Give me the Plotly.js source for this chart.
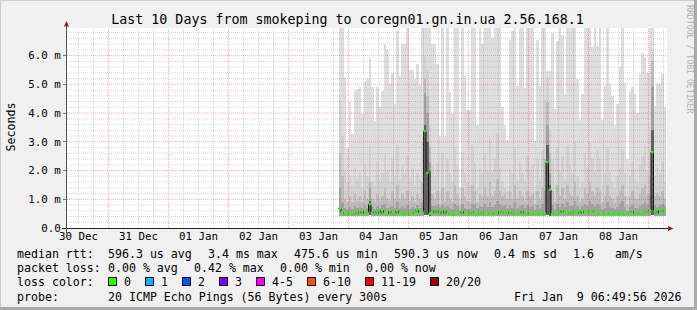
<!DOCTYPE html>
<html><head><meta charset="utf-8">
<script src="https://cdn.plot.ly/plotly-3.0.1.min.js"></script>
<style>html,body{margin:0;padding:0;background:#f0f0f0;}#chart{width:697px;height:310px;}</style>
</head><body><div id="chart"></div>
<script>
// ---------------- data ----------------
const titleText = 'Last 10 Days from smokeping to coregn01.gn.in.ua 2.56.168.1';
const binStart = '2026-01-03 20:00:00';   // first hourly bin with data
const stepHours = 1;
const rangeStart = '2025-12-30 07:24:00';
const rangeEnd = '2026-01-09 07:24:00';

// smoke (ms): lower edge, outer (max) and inner percentile layers, per hourly bin
const smokeMin = [
0.42,0.43,0.42,0.43,0.42,0.41,0.42,0.43,0.42,0.42,
0.43,0.42,0.44,0.42,0.41,0.43,0.42,0.43,0.42,0.42,
0.43,0.42,0.42,0.43,0.42,0.41,0.42,0.43,0.42,0.42,
0.42,0.43,0.42,0.43,0.45,0.44,0.43,0.42,0.43,0.42,
0.42,0.42,0.43,0.42,0.41,0.42,0.42,0.43,0.42,0.43,
0.42,0.42,0.41,0.43,0.42,0.42,0.42,0.43,0.42,0.42,
0.42,0.42,0.43,0.42,0.43,0.42,0.43,0.42,0.43,0.42,
0.42,0.41,0.42,0.43,0.42,0.42,0.43,0.42,0.41,0.42,
0.42,0.42,0.43,0.44,0.43,0.42,0.41,0.42,0.42,0.43,
0.42,0.43,0.42,0.42,0.43,0.42,0.41,0.42,0.42,0.42,
0.43,0.43,0.42,0.42,0.42,0.41,0.42,0.42,0.42,0.41,
0.41,0.42,0.42,0.42,0.42,0.41,0.42,0.43,0.42,0.42,
0.42,0.42,0.42,0.43,0.43,0.44,0.43,0.42,0.43,0.43,
0.43];
const smokeMax = [
7.5,7.5,5.27,2.8,4.4,3.27,4.78,4.85,4.9,3.97,
5.13,5.2,5.96,4.9,3.74,4.9,4.2,4.78,6.4,6.2,
5.0,5.4,4.3,6.85,5.3,6.4,6.4,7.5,5.5,5.5,
5.2,5.7,4.98,7.5,7.5,7.5,7.5,6.4,6.4,5.7,
3.2,7.5,3.2,7.5,4.72,3.97,7.5,7.5,1.43,7.5,
5.3,4.1,4.1,7.5,7.5,3.6,7.5,6.4,7.5,7.5,
7.5,6.6,7.5,7.5,7.5,4.2,3.6,3.06,6.55,6.85,
7.5,4.94,7.5,7.5,4.87,7.5,7.5,7.5,3.04,6.55,
4.94,7.5,7.5,5.45,5.45,6.8,4.15,6.5,7.5,6.7,
4.65,7.5,7.5,7.5,7.5,5.2,3.75,4.65,7.5,7.5,
7.5,6.3,7.5,6.35,7.5,3.75,4.94,7.5,5.0,4.6,
3.6,4.3,5.6,7.5,5.05,2.4,4.78,4.9,4.65,4.0,
5.35,6.1,5.95,5.4,7.5,7.5,4.25,5.0,5.0,5.35,
4.2];
const smokeP2 = [
4.5,3.2,2.0,1.6,1.8,1.5,2.1,1.7,1.9,1.4,
2.2,1.8,2.9,1.6,1.5,2.3,1.7,1.9,2.6,2.0,
1.6,2.4,1.8,2.9,1.7,2.2,1.9,2.5,1.6,2.1,
1.5,1.9,1.7,3.0,6.0,5.5,3.6,2.2,1.8,2.3,
1.3,2.6,1.4,2.4,1.9,1.6,2.8,2.2,1.0,2.6,
1.9,1.6,1.5,2.9,2.3,1.4,2.1,1.9,2.6,2.0,
3.1,2.0,2.4,3.3,2.1,1.6,1.4,1.3,2.1,1.9,
2.8,1.7,2.3,1.9,1.6,2.5,2.0,2.2,1.3,2.4,
1.7,2.7,4.5,5.2,3.4,2.4,1.5,2.8,2.0,2.5,
1.7,2.9,2.2,1.9,3.0,1.8,1.4,1.6,2.6,2.1,
3.0,2.4,2.0,2.7,2.4,1.5,1.9,2.8,2.0,1.6,
1.4,1.8,2.1,2.7,1.9,1.1,1.8,2.3,1.7,1.6,
2.2,2.5,2.9,2.0,3.4,6.2,1.8,2.1,1.9,2.3,
1.6];
const smokeP3 = [
2.6,1.8,1.0,0.9,1.1,0.9,1.2,0.95,1.1,0.9,
1.3,1.0,1.6,1.0,0.9,1.2,0.95,1.1,1.4,1.0,
0.95,1.3,1.0,1.5,1.0,1.2,1.0,1.3,0.95,1.1,
0.9,1.2,1.0,1.6,5.2,4.6,2.8,1.2,1.0,1.3,
0.85,1.4,0.9,1.3,1.0,0.9,1.5,1.2,0.75,1.4,
1.1,0.95,0.9,1.5,1.3,0.9,1.2,1.1,1.4,1.1,
1.6,1.1,1.3,1.7,1.3,1.1,1.2,1.0,1.3,1.0,
1.5,1.0,1.3,1.1,0.95,1.3,1.1,1.2,0.85,1.3,
1.0,1.4,2.4,4.4,2.6,1.3,0.9,1.5,1.1,1.4,
1.0,1.5,1.2,1.1,1.6,1.1,0.9,1.0,1.4,1.2,
1.6,1.3,1.1,1.4,1.3,0.9,1.1,1.5,1.1,1.0,
0.9,1.1,1.3,1.5,1.1,0.8,1.1,1.3,1.0,1.0,
1.2,1.4,1.5,1.2,1.8,5.8,1.1,1.2,1.1,1.3,
1.0];
const smokeP4 = [
1.4,0.9,0.7,0.65,0.72,0.65,0.75,0.7,0.72,0.68,
0.8,0.7,1.4,0.72,0.65,0.75,0.68,0.8,0.85,0.7,
0.72,0.78,0.68,0.9,0.7,0.75,0.68,0.8,0.66,0.72,
0.68,0.8,0.7,0.9,4.7,4.0,2.3,0.75,0.78,0.8,
0.72,0.8,0.74,0.75,0.68,0.66,0.85,0.75,0.6,0.82,
0.7,0.66,0.65,0.85,0.8,0.68,0.75,0.72,0.85,0.72,
0.9,0.72,0.8,0.95,0.85,0.75,0.8,0.7,0.8,0.68,
0.9,0.68,0.78,0.8,0.68,0.8,0.72,0.75,0.62,0.8,
0.7,0.85,1.3,3.6,1.9,0.8,0.65,0.85,0.72,0.85,
0.72,0.9,0.75,0.75,0.95,0.75,0.65,0.75,0.85,0.78,
0.95,0.85,0.75,0.85,0.8,0.65,0.7,0.9,0.72,0.68,
0.66,0.72,0.85,0.95,0.72,0.6,0.72,0.8,0.68,0.7,
0.75,0.85,0.9,0.8,1.1,4.9,0.8,0.72,0.8,0.82,
0.78];
// darkest core, only where the pings spread around a high median
const smokeP5 = {12:0.95, 34:3.6, 35:3.0, 36:2.0, 83:2.9, 84:1.5, 125:3.4};
const median = [
0.68,0.55,0.50,0.50,0.52,0.50,0.50,0.56,0.50,0.58,
0.50,0.55,0.83,0.55,0.50,0.58,0.50,0.62,0.52,0.50,
0.58,0.50,0.50,0.60,0.52,0.50,0.50,0.52,0.50,0.51,
0.55,0.62,0.52,0.55,3.37,1.92,0.50,0.52,0.60,0.52,
0.58,0.50,0.60,0.50,0.50,0.50,0.50,0.50,0.50,0.58,
0.50,0.50,0.50,0.56,0.52,0.52,0.50,0.55,0.52,0.50,
0.50,0.50,0.52,0.50,0.58,0.52,0.55,0.50,0.56,0.50,
0.52,0.50,0.50,0.58,0.52,0.50,0.52,0.50,0.50,0.50,
0.52,0.50,0.50,2.29,1.33,0.50,0.50,0.50,0.52,0.60,
0.55,0.52,0.50,0.55,0.52,0.56,0.50,0.58,0.52,0.55,
0.56,0.58,0.55,0.52,0.52,0.50,0.50,0.50,0.50,0.50,
0.50,0.50,0.50,0.50,0.50,0.50,0.52,0.58,0.50,0.52,
0.50,0.50,0.52,0.58,0.62,2.64,0.58,0.50,0.62,0.58,
0.62];

const dayLabels = ['30 Dec','31 Dec','01 Jan','02 Jan','03 Jan','04 Jan','05 Jan','06 Jan','07 Jan','08 Jan'];
const dayLabelTimes = ['2025-12-30 12:00','2025-12-31 12:00','2026-01-01 12:00','2026-01-02 12:00','2026-01-03 12:00',
                       '2026-01-04 12:00','2026-01-05 12:00','2026-01-06 12:00','2026-01-07 12:00','2026-01-08 12:00'];
const yTickVals = [0,1,2,3,4,5,6];
const yTickText = ['0.0','1.0 m','2.0 m','3.0 m','4.0 m','5.0 m','6.0 m'];

const rttLabel = 'median rtt:';
const rttItems = ['596.3 us avg','3.4 ms max','475.6 us min','590.3 us now','0.4 ms sd','1.6   am/s'];
const lossLabel = 'packet loss:';
const lossItems = ['0.00 % avg','0.42 % max','0.00 % min','0.00 % now'];
const lossColorLabel = 'loss color:';
const lossColorNames = ['0','1','2','3','4-5','6-10','11-19','20/20'];
const lossColors = ['#26ff00','#00b8ff','#0059ff','#7e00ff','#ff00ff','#ff5500','#ff0000','#a10000'];
const probeLabel = 'probe:';
const probeText = '20 ICMP Echo Pings (56 Bytes) every 300s';
const dateText = 'Fri Jan  9 06:49:56 2026';
const yTitle = 'Seconds';
const watermark = 'RRDTOOL / TOBI OETIKER';

// ---------------- layout helpers ----------------
const W=697,H=310,ML=67,MR=30,MT=28,MB=82;
const PW=W-ML-MR, PH=H-MT-MB;
const px = x => (x-ML)/PW;
const py = y => (H-MB-y)/PH;
const HOUR = 3600000;
const toMs = s => Date.parse(s.replace(' ','T')+'Z');
const fmt = ms => new Date(ms).toISOString().slice(0,19).replace('T',' ');
const t0 = toMs(binStart);
const binX = smokeMax.map((_,i)=>fmt(t0+i*stepHours*HOUR));
const binEnd = smokeMax.map((_,i)=>fmt(t0+(i+1)*stepHours*HOUR));
const nbsp = s => s.replace(/ /g,'\u00a0');

function smokeLayer(top, color){
  const xs=[],ys=[],bs=[];
  smokeMax.forEach((_,i)=>{
    const t = top[i];
    if(t===undefined||t===null) return;
    xs.push(binX[i]); bs.push(smokeMin[i]); ys.push(t-smokeMin[i]);
  });
  return {type:'bar',x:xs,y:ys,base:bs,width:stepHours*HOUR,offset:0,
    marker:{color:color,line:{width:0}},hoverinfo:'skip',showlegend:false};
}

const traces = [
  smokeLayer(smokeMax,'#dedede'),
  smokeLayer(smokeP2,'#d2d2d2'),
  smokeLayer(smokeP3,'#bdbdbd'),
  smokeLayer(smokeP4,'#a2a2a2'),
  smokeLayer(smokeP5,'#606060')
];
// median: thin dark step line with loss-coloured horizontal bands
traces.push({type:'scatter',mode:'lines',x:binX.concat([binEnd[binEnd.length-1]]),
  y:median.concat([median[median.length-1]]),line:{shape:'hv',color:'#151515',width:1},hoverinfo:'skip',showlegend:false});
const gx=[],gy=[];
median.forEach((m,i)=>{gx.push(binX[i],binEnd[i],null);gy.push(m,m,null);});
traces.push({type:'scatter',mode:'lines',x:gx,y:gy,line:{color:lossColors[0],width:2.2},hoverinfo:'skip',showlegend:false});

// ---------------- shapes ----------------
const shapes=[];
const xs0=toMs(rangeStart), xs1=toMs(rangeEnd);
const GRID_MINOR='rgba(120,120,120,0.28)', GRID_MAJOR='rgba(255,0,0,0.32)';
for(let t=toMs('2025-12-30 12:00'); t<xs1; t+=6*HOUR){
  if(t<=xs0) continue;
  const major = new Date(t).getUTCHours()===0;
  shapes.push({type:'line',layer:'above',xref:'x',yref:'paper',x0:fmt(t),x1:fmt(t),y0:0,y1:1,
    line:{color:major?GRID_MAJOR:GRID_MINOR,width:1,dash:'1px,1px'}});
}
for(let k=1;k<=34;k++){
  const v=k*0.2, major=(k%5===0);
  shapes.push({type:'line',layer:'above',xref:'paper',yref:'y',x0:0,x1:1,y0:v,y1:v,
    line:{color:major?GRID_MAJOR:GRID_MINOR,width:1,dash:'1px,1px'}});
}
// axis lines and arrows
shapes.push({type:'line',layer:'above',xref:'paper',yref:'paper',x0:px(62),x1:px(669),y0:py(228.5),y1:py(228.5),line:{color:'#222',width:1}});
shapes.push({type:'line',layer:'above',xref:'paper',yref:'paper',x0:px(66.5),x1:px(66.5),y0:py(233),y1:py(25),line:{color:'#555',width:1}});
shapes.push({type:'path',layer:'above',xref:'paper',yref:'paper',
  path:`M ${px(64)} ${py(26.5)} L ${px(66.5)} ${py(21)} L ${px(69)} ${py(26.5)} Z`,fillcolor:'#a01818',line:{width:0}});
shapes.push({type:'path',layer:'above',xref:'paper',yref:'paper',
  path:`M ${px(668)} ${py(226)} L ${px(673.5)} ${py(228.5)} L ${px(668)} ${py(231)} Z`,fillcolor:'#a01818',line:{width:0}});
// outer frame (3D shade)
shapes.push({type:'line',xref:'paper',yref:'paper',x0:px(0),x1:px(697),y0:py(0.5),y1:py(0.5),line:{color:'#cbcbcb',width:1}});
shapes.push({type:'line',xref:'paper',yref:'paper',x0:px(0.5),x1:px(0.5),y0:py(0),y1:py(310),line:{color:'#cbcbcb',width:1}});
shapes.push({type:'rect',xref:'paper',yref:'paper',x0:px(0),x1:px(697),y0:py(307),y1:py(310),fillcolor:'#aaaaaa',line:{width:0}});
shapes.push({type:'rect',xref:'paper',yref:'paper',x0:px(694),x1:px(697),y0:py(0),y1:py(310),fillcolor:'#aaaaaa',line:{width:0}});

// ---------------- annotations ----------------
const FONT='DejaVu Sans Mono';
const ann=[];
function txt(x,y,s,opt){
  ann.push(Object.assign({xref:'paper',yref:'paper',x:px(x),y:py(y),xanchor:'left',yanchor:'middle',
    text:nbsp(s),showarrow:false,borderpad:0,font:{family:FONT,size:11.6,color:'#000'}},opt||{}));
}
const rttX=[107,207,293,393,493,572];
txt(16,253.5,rttLabel); rttItems.forEach((s,i)=>txt(rttX[i],253.5,s));
const lossX=[107,193,279,365];
txt(16,268,lossLabel); lossItems.forEach((s,i)=>txt(lossX[i],268,s));
txt(16,282,lossColorLabel);
const boxX=[108,145,182,219,256,307,365,430];
lossColorNames.forEach((s,i)=>{
  shapes.push({type:'rect',xref:'paper',yref:'paper',x0:px(boxX[i]+0.5),x1:px(boxX[i]+8.5),y0:py(277.5),y1:py(285.5),
    fillcolor:lossColors[i],line:{color:'#000',width:1}});
  txt(boxX[i]+15,282,s);
});
txt(16,296.5,probeLabel); txt(107,296.5,probeText); txt(513,296.5,dateText);
ann.push({xref:'paper',yref:'paper',x:px(10.5),y:py(127),xanchor:'center',yanchor:'middle',text:yTitle,textangle:-90,
  showarrow:false,font:{family:FONT,size:11.6,color:'#000'}});
ann.push({xref:'paper',yref:'paper',x:px(689.5),y:py(59.5),xanchor:'center',yanchor:'middle',text:nbsp(watermark),textangle:90,
  showarrow:false,font:{family:FONT,size:8.2,color:'#b0b0b0'}});

const layout={
  width:W,height:H,margin:{l:ML,r:MR,t:MT,b:MB,pad:0},
  paper_bgcolor:'#f0f0f0',plot_bgcolor:'#ffffff',
  barmode:'overlay',bargap:0,showlegend:false,
  font:{family:FONT,size:11,color:'#000'},
  title:{text:titleText,xref:'container',yref:'container',x:347.5/W,y:1-19/H,xanchor:'center',yanchor:'middle',
    font:{family:FONT,size:13.3,color:'#000'}},
  xaxis:{type:'date',range:[rangeStart,rangeEnd],tickmode:'array',tickvals:dayLabelTimes,ticktext:dayLabels,
    showgrid:false,zeroline:false,showline:false,ticks:'',tickfont:{family:FONT,size:10.8,color:'#000'},fixedrange:true},
  yaxis:{range:[0,6.96],tickmode:'array',tickvals:yTickVals,ticktext:yTickText,showgrid:false,zeroline:false,showline:false,
    ticks:'outside',ticklen:3,tickcolor:'#777',tickfont:{family:FONT,size:10.8,color:'#000'},fixedrange:true},
  shapes:shapes,annotations:ann
};
Plotly.newPlot('chart',traces,layout,{staticPlot:true,displayModeBar:false});
</script></body></html>
